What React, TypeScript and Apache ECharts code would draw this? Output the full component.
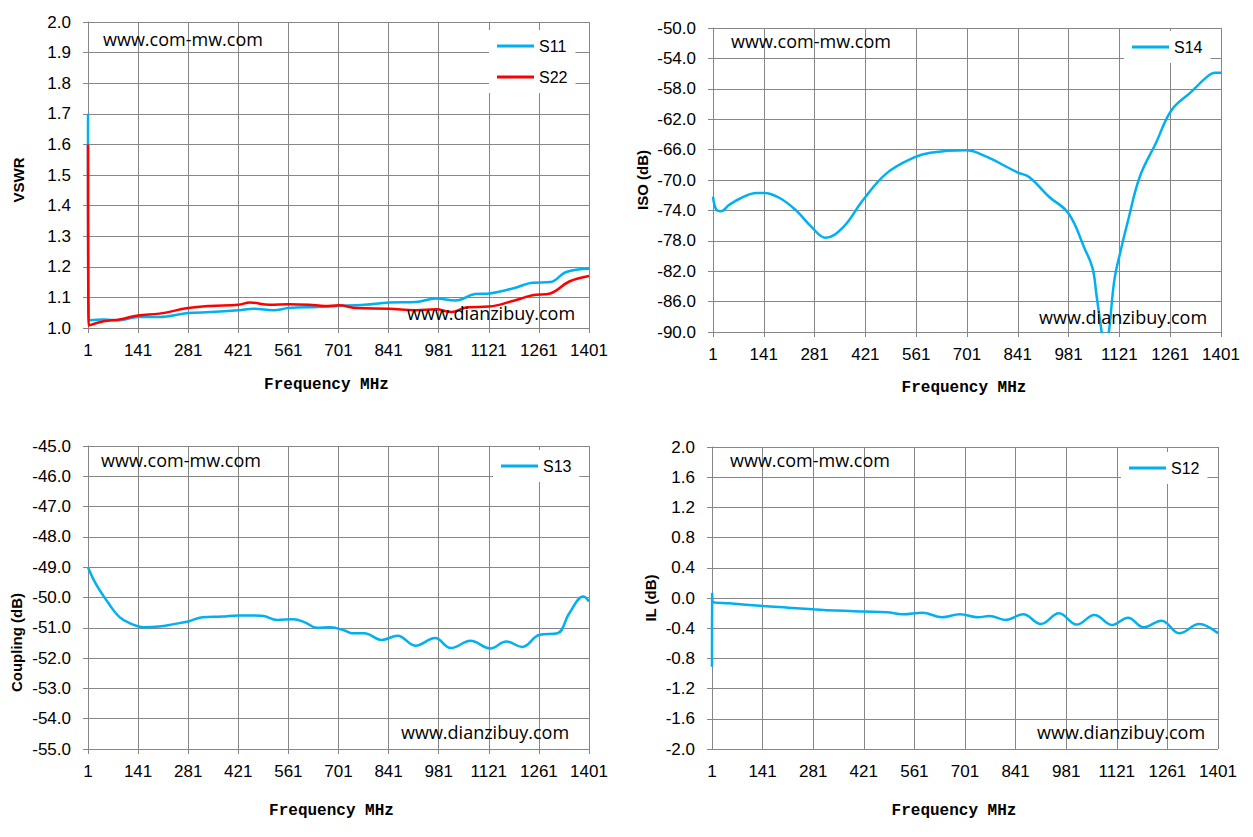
import React, { useEffect, useRef } from 'react';
import * as echarts from 'echarts';

// frequency (MHz), value pairs
const S11_VSWR: [number, number][] = [
  [1, 1.7], [3, 1.025], [45, 1.028], [89, 1.025], [141, 1.036], [200, 1.036], [281, 1.049],
  [343, 1.052], [421, 1.058], [465, 1.063], [520, 1.058], [561, 1.065], [641, 1.069],
  [702, 1.072], [774, 1.076], [842, 1.083], [917, 1.085], [973, 1.096], [1028, 1.09],
  [1083, 1.111], [1123, 1.113], [1193, 1.131], [1243, 1.148], [1293, 1.15], [1337, 1.183],
  [1401, 1.194],
];

const S22_VSWR: [number, number][] = [
  [1, 1.6], [3, 1.008], [45, 1.022], [89, 1.028], [141, 1.041], [200, 1.047], [281, 1.065],
  [343, 1.072], [421, 1.076], [454, 1.083], [509, 1.076], [561, 1.078], [619, 1.076],
  [663, 1.072], [702, 1.074], [752, 1.065], [842, 1.063], [917, 1.058], [973, 1.061],
  [1017, 1.052], [1061, 1.068], [1121, 1.07], [1193, 1.09], [1243, 1.107], [1293, 1.113],
  [1346, 1.152], [1401, 1.17],
];

const S14_ISO: [number, number][] = [
  [1, -72.2], [10, -73.9], [23, -74.1], [45, -73.3], [77, -72.4], [121, -71.7], [143, -71.7],
  [186, -72.4], [230, -74.0], [273, -76.2], [311, -77.6], [360, -76.2], [415, -72.6],
  [480, -69.1], [557, -67.0], [600, -66.4], [698, -66.1], [753, -66.9], [840, -69.0],
  [872, -69.6], [927, -72.2], [981, -74.4], [1025, -79.0], [1047, -81.6], [1058, -85.2],
  [1072, -90.0], [1081, -93.0], [1092, -90.0], [1107, -83.2], [1123, -79.6], [1145, -75.3],
  [1177, -69.6], [1221, -65.2], [1265, -60.8], [1319, -58.4], [1363, -56.4], [1384, -55.9],
  [1401, -55.9],
];

const S13_COUPLING: [number, number][] = [
  [1, -49.0], [23, -49.55], [56, -50.15], [89, -50.65], [122, -50.87], [155, -50.98],
  [199, -50.96], [244, -50.87], [281, -50.79], [321, -50.65], [376, -50.63], [420, -50.59],
  [486, -50.6], [530, -50.74], [574, -50.72], [607, -50.82], [640, -51.0], [679, -50.98],
  [718, -51.09], [740, -51.18], [773, -51.18], [822, -51.4], [866, -51.26], [916, -51.59],
  [971, -51.34], [1015, -51.67], [1070, -51.43], [1125, -51.68], [1170, -51.45],
  [1214, -51.63], [1263, -51.23], [1313, -51.18], [1346, -50.52], [1385, -49.97],
  [1401, -50.13],
];

const S12_IL: [number, number][] = [
  [1, -0.91], [1.5, 0.06], [3, -0.05], [48, -0.07], [142, -0.106], [212, -0.128],
  [280, -0.15], [343, -0.167], [420, -0.18], [485, -0.19], [529, -0.216], [583, -0.194],
  [638, -0.256], [687, -0.216], [737, -0.256], [769, -0.238], [813, -0.29], [862, -0.216],
  [911, -0.344], [961, -0.203], [1010, -0.352], [1059, -0.225], [1108, -0.357],
  [1152, -0.26], [1195, -0.388], [1245, -0.3], [1294, -0.467], [1349, -0.344],
  [1401, -0.467],
];

const BLUE = '#00b0f0';
const RED = '#ff0000';
const GRID_GRAY = '#868686';

// axes start at 1 MHz and -90 dB; shift so that min is a multiple of the interval
const F_SHIFT = 1;
const ISO_SHIFT = 90;

const toXY = (pts: [number, number][], yShift = 0) =>
  pts.map(([f, v]) => [f - F_SHIFT, v + yShift]);

const makeX = (i: number, nameGap: number, nudge: number) => ({
  type: 'value',
  gridIndex: i,
  min: 0,
  max: 1400,
  interval: 140,
  axisLine: { lineStyle: { color: GRID_GRAY } },
  axisTick: { show: true, length: 5, lineStyle: { color: GRID_GRAY } },
  axisLabel: {
    formatter: (v: number) => String(v + F_SHIFT),
    color: '#000',
    fontSize: 17,
    fontFamily: 'Liberation Sans',
    margin: 14,
  },
  splitLine: { show: true, lineStyle: { color: GRID_GRAY, width: 1 } },
  name: 'Frequency MHz',
  nameLocation: 'middle',
  nameGap,
  nameTextStyle: {
    fontFamily: 'Liberation Mono',
    fontWeight: 'bold',
    fontSize: 16,
    color: '#000',
    padding: [0, nudge * 2, 0, 0],
  },
});

const makeY = (
  i: number,
  name: string,
  min: number,
  max: number,
  interval: number,
  shift: number,
  nameGap: number,
  down: number
) => ({
  type: 'value',
  gridIndex: i,
  min,
  max,
  interval,
  axisLine: { show: true, lineStyle: { color: GRID_GRAY } },
  axisTick: { show: true, length: 5, lineStyle: { color: GRID_GRAY } },
  axisLabel: {
    formatter: (v: number) => (v - shift).toFixed(1),
    color: '#000',
    fontSize: 17,
    fontFamily: 'Liberation Sans',
    margin: 17,
  },
  splitLine: { show: true, lineStyle: { color: GRID_GRAY, width: 1 } },
  name,
  nameLocation: 'middle',
  nameGap,
  nameTextStyle: {
    fontFamily: 'Liberation Sans',
    fontWeight: 'bold',
    fontSize: 15,
    color: '#000',
    padding: [0, down * 2, 0, 0],
  },
});

const line = (name: string, color: string, idx: number, data: number[][]) => ({
  name,
  type: 'line',
  xAxisIndex: idx,
  yAxisIndex: idx,
  data,
  symbol: 'none',
  showSymbol: false,
  smooth: 0.4,
  lineStyle: { color, width: 2.5 },
  itemStyle: { color },
});

const legend = (data: string[], left: number, top: number) => ({
  data,
  orient: 'vertical',
  left,
  top,
  padding: [8, 8, 8, 8],
  backgroundColor: '#fff',
  icon: 'rect',
  itemWidth: 37,
  itemHeight: 3,
  itemGap: 15,
  textStyle: { fontFamily: 'Liberation Sans', fontSize: 16, color: '#000' },
});

const mark = (text: string, left: number, top: number) => ({
  text,
  left,
  top,
  padding: 0,
  textStyle: { fontFamily: 'Open Sans', fontSize: 18, fontWeight: 'normal', color: '#000' },
});

export default function App() {
  const ref = useRef<HTMLDivElement>(null);

  useEffect(() => {
    if (!ref.current) return;
    const chart = echarts.init(ref.current, null, { renderer: 'svg' });

    chart.setOption({
      animation: false,
      backgroundColor: '#fff',
      grid: [
        { left: 88, top: 22, width: 501, height: 306 },
        { left: 713, top: 28, width: 508, height: 304 },
        { left: 88, top: 446, width: 501, height: 303 },
        { left: 712, top: 447, width: 506, height: 302 },
      ],
      xAxis: [makeX(0, 49, 12), makeX(1, 48, 3), makeX(2, 54, 7), makeX(3, 54, 11)],
      yAxis: [
        makeY(0, 'VSWR', 1, 2, 0.1, 0, 62, 5),
        makeY(1, 'ISO (dB)', 0, 40, 4, ISO_SHIFT, 63, 0),
        makeY(2, 'Coupling (dB)', -55, -45, 1, 0, 64, 45),
        makeY(3, 'IL (dB)', -2, 2, 0.4, 0, 54, 0),
      ],
      legend: [
        legend(['S11', 'S22'], 489, 30),
        legend(['S14'], 1124, 31),
        legend(['S13'], 493, 450),
        legend(['S12'], 1121, 452),
      ],
      title: [
        mark('www.com-mw.com', 103, 30),
        mark('www.dianzibuy.com', 407, 304),
        mark('www.com-mw.com', 731, 32),
        mark('www.dianzibuy.com', 1039, 308),
        mark('www.com-mw.com', 101, 451),
        mark('www.dianzibuy.com', 401, 723),
        mark('www.com-mw.com', 730, 451),
        mark('www.dianzibuy.com', 1037, 723),
      ],
      series: [
        line('S11', BLUE, 0, toXY(S11_VSWR)),
        line('S22', RED, 0, toXY(S22_VSWR)),
        line('S14', BLUE, 1, toXY(S14_ISO, ISO_SHIFT)),
        line('S13', BLUE, 2, toXY(S13_COUPLING)),
        line('S12', BLUE, 3, toXY(S12_IL)),
      ],
    });

    return () => {
      chart.dispose();
    };
  }, []);

  return (
    <div
      ref={ref}
      style={{ position: 'absolute', left: 0, top: 0, width: '1253px', height: '837px' }}
    />
  );
}
